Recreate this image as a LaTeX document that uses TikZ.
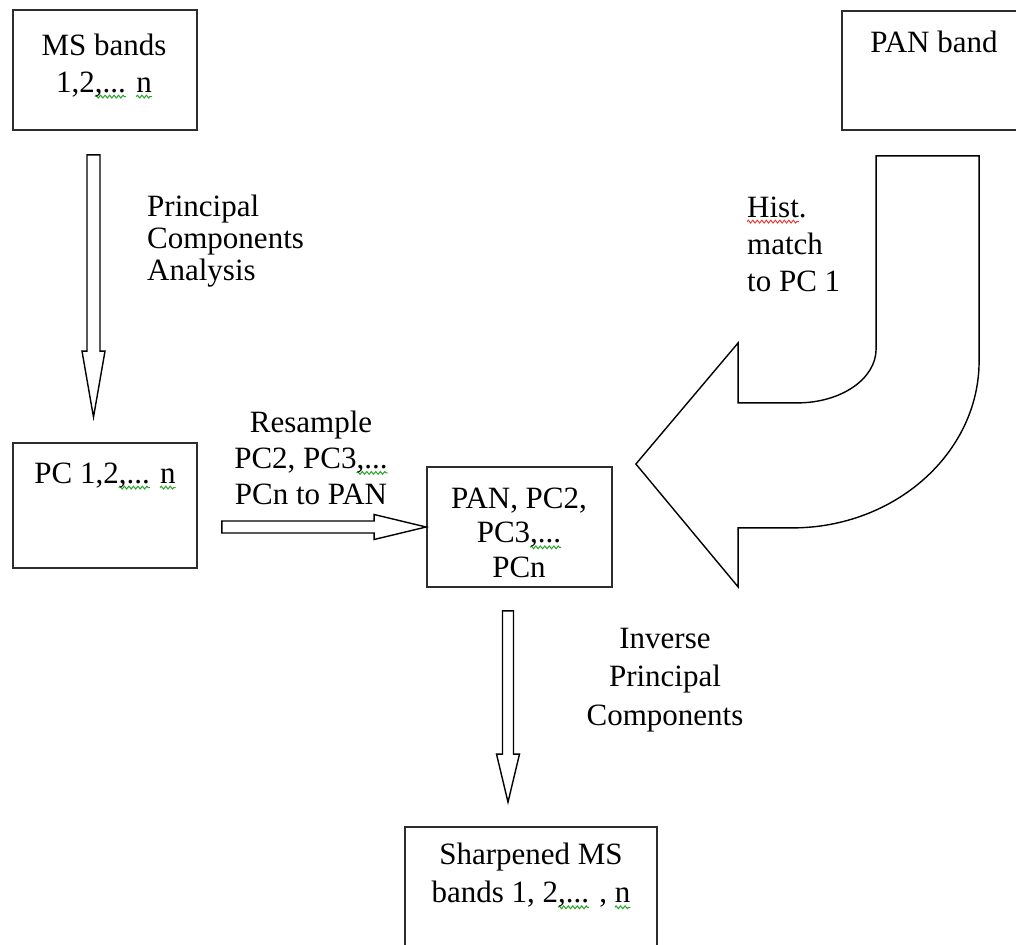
\documentclass[tikz,border=0pt]{standalone}
\usepackage{fontspec}
\setmainfont{Liberation Serif}
\usetikzlibrary{calc,decorations.pathmorphing}

\definecolor{gramgreen}{RGB}{40,165,40}
\definecolor{spellred}{RGB}{235,60,60}
\definecolor{boxline}{RGB}{45,45,45}

% wavy proofing underline: colour, text
\newlength\wavelen
\newcommand\wavy[2]{%
  \settowidth\wavelen{#2}%
  \tikz[overlay, x=1pt, y=1pt]{\draw[#1, line width=1pt, decorate,
    decoration={zigzag, segment length=4.5pt, amplitude=1.4pt}] (0,-4.5) -- (\wavelen,-4.5);}%
  #2}
\newcommand\gramwave[1]{\wavy{gramgreen}{#1}}
\newcommand\spellwave[1]{\wavy{spellred}{#1}}

% hollow block arrow: from, to, shaft half width, head half width, head length
\newcommand\blockarrow[5]{%
  \path ($(#2)!#5!(#1)$) coordinate (ba-h);
  \draw[arrowline] ($(#1)!#3!90:(#2)$) -- ($(ba-h)!#3!90:(#2)$) -- ($(ba-h)!#4!90:(#2)$)
    -- (#2) -- ($(ba-h)!#4!-90:(#2)$) -- ($(ba-h)!#3!-90:(#2)$) -- ($(#1)!#3!-90:(#2)$) -- cycle;}

\begin{document}
\begin{tikzpicture}[x=1pt,y=-1pt,
  box/.style={draw=boxline, line width=1.8pt, inner sep=0pt},
  txt/.style={font=\fontsize{31}{37}\selectfont, inner sep=0pt, anchor=north, align=center},
  txtleft/.style={txt, align=left, anchor=north west},
  arrowline/.style={draw=black, line width=1.4pt, line join=miter, fill=white}]

\useasboundingbox (0,0) rectangle (1016,944);
\fill[white] (0,0) rectangle (1016,944);
\clip (0,0) rectangle (1016,944);

% boxes
\node[box, minimum width=184pt, minimum height=120pt] (ms)  at (105,70) {};
\node[box, minimum width=190pt, minimum height=119pt] (pan) at (937,70.5) {};
\node[box, minimum width=184pt, minimum height=125pt] (pc)  at (105,505.5) {};
\node[box, minimum width=185pt, minimum height=120pt] (mid) at (519.5,527) {};
\node[box, minimum width=252pt, minimum height=130pt] (out) at (531,892) {};

% box texts
\node[txt] (mstext)  at (104,29)  {\strut MS bands\\1,2\gramwave{,...} \gramwave{n}};
\node[txt] (pantext) at (934,26)  {\strut PAN band};
\node[txt] (pctext)  at (105,457) {\strut PC 1,2\gramwave{,...} \gramwave{n}};
\node[txt, font=\fontsize{31}{34.5}\selectfont] (midtext) at (519,484) {\strut PAN, PC2,\\PC3\gramwave{,...}\\PCn};
\node[txt, font=\fontsize{31}{38}\selectfont] (outtext) at (531,838) {\strut Sharpened MS\\bands 1, 2\gramwave{,...} , \gramwave{n}};

% straight block arrows
\coordinate (a1s) at ($(ms.south)+(-11.5,24)$);
\coordinate (a1e) at ($(pc.north)+(-11.5,-25)$);
\blockarrow{a1s}{a1e}{6.5pt}{11.5pt}{66pt}

\coordinate (a2s) at ($(mid.west -| pc.east)+(24,0)$);
\blockarrow{a2s}{mid.west}{6pt}{12.5pt}{52pt}

\coordinate (a3s) at ($(mid.south)+(-11.5,23)$);
\coordinate (a3e) at ($(a3s |- out.north)+(0,-24)$);
\blockarrow{a3s}{a3e}{5.5pt}{11.5pt}{48pt}

% curved block arrow from the PAN band to the merged components
\coordinate (ca) at ($(pan.south west)+(35,25)$);
\coordinate (ct) at ($(mid.east)+(23,-63)$);
\draw[arrowline] (ca) -- ++(103,0) -- ++(0,205)
  .. controls ($(ca)+(103,297)$) and ($(ca)+(19,372)$) .. ($(ca)+(-84,372)$)
  -- ($(ca)+(-138,372)$) -- ($(ca)+(-138,431)$) -- (ct)
  -- ($(ca)+(-138,187)$) -- ($(ca)+(-138,247)$) -- ($(ca)+(-79,247)$)
  .. controls ($(ca)+(-35,247)$) and ($(ca)+(0,223)$) .. ($(ca)+(0,193)$)
  -- cycle;

% arrow labels
\node[txtleft, font=\fontsize{31}{32}\selectfont] (pcalabel) at (147,194) {\strut Principal\\Components\\Analysis};
\node[txt, font=\fontsize{31}{36}\selectfont] (reslabel) at (311,407) {\strut Resample\\PC2, PC3\gramwave{,...}\\PCn to PAN};
\node[txtleft] (histlabel) at (747,191) {\strut \spellwave{Hist}.\\match\\to PC 1};
\node[txt, font=\fontsize{31}{38.5}\selectfont] (invlabel) at (665,621) {\strut Inverse\\Principal\\Components};

\end{tikzpicture}
\end{document}
